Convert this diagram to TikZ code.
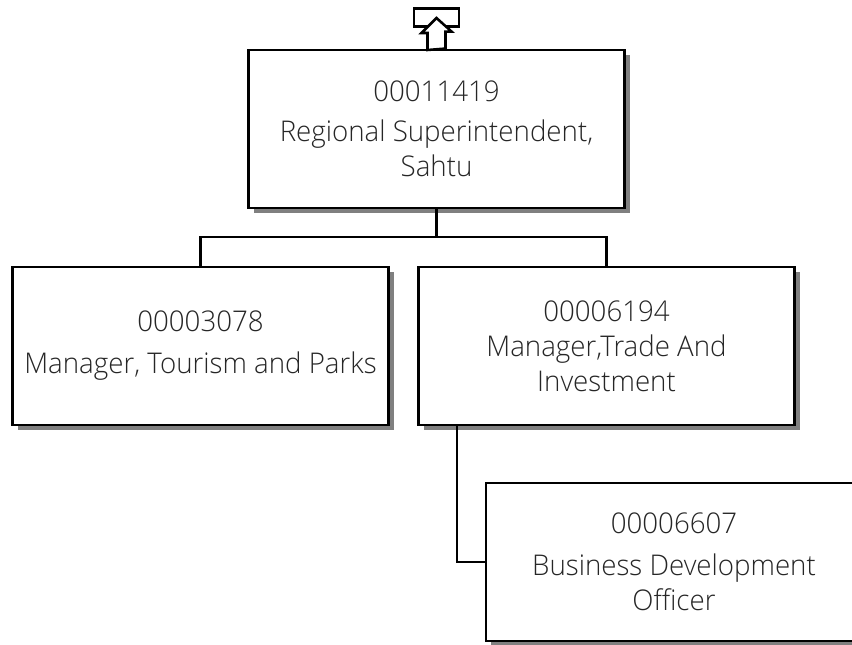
\documentclass[tikz,border=0pt]{standalone}
\usepackage{fontspec}
\setmainfont{Open Sans Light}[FakeStretch=0.97]
\usetikzlibrary{shadows}
\begin{document}
\begin{tikzpicture}[x=0.75pt,y=-0.75pt,
  box/.style={draw=black, line width=2.2pt, fill=white, rectangle, inner sep=0pt,
    minimum width=282pt, minimum height=118.5pt, align=center, text=black!85,
    font=\fontsize{21.4}{26.25}\selectfont,
    drop shadow={shadow xshift=3.75pt, shadow yshift=-3.75pt, opacity=1, fill=black!50}},
  link/.style={line width=1.9pt}]
\useasboundingbox (0,0) rectangle (852,645);
\clip (0,0) rectangle (852,645);
\node[box] (top) at (436.5,129) {00011419\\[3.75pt]Regional Superintendent,\\Sahtu};
\node[box] (left) at (200.5,346) {00003078\\[5.25pt]Manager, Tourism and Parks};
\node[box] (right) at (606.5,346) {00006194\\Manager,Trade And\\Investment};
\node[box] (bottom) at (674,562) {00006607\\[5.25pt]Business Development\\Officer};
\coordinate (bus) at (436.5,237);
\draw[link] (top.south) -- (bus) -| (left.north);
\draw[link] (bus) -| (right.north);
\draw[link] ([xshift=-112.1pt]right.south) |- (bottom.west);
% up icon
\node[draw=black, line width=2.2pt, minimum width=33.75pt, minimum height=14pt, inner sep=0pt] (icon) at (436.5,17.5) {};
\draw[line width=1.9pt, fill=white, line join=miter] (top.north) ++(9,0) coordinate (a1)
  -- ++(0,-17) -- ++(6,0) -- (436.5,18) coordinate (tip) -- (421.5,33) -- ++(6,0) -- (427.5,50) -- cycle;
\end{tikzpicture}
\end{document}
